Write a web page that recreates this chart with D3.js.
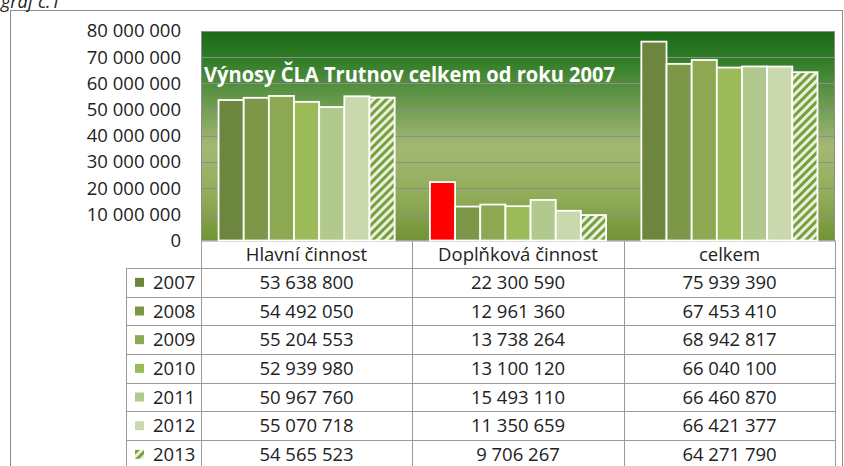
<!DOCTYPE html>
<html><head><meta charset="utf-8">
<script src="https://cdn.jsdelivr.net/npm/d3@7"></script>
<style>
html,body{margin:0;padding:0;background:#fff;}
svg{display:block;font-family:"Open Sans",Lato,sans-serif;}
</style></head>
<body><svg id="c" width="844" height="466"></svg>
<script>
const categories = ["Hlavní činnost", "Doplňková činnost", "celkem"];
const years = ["2007","2008","2009","2010","2011","2012","2013"];
const v2007 = [53638800, 22300590, 75939390];
const v2008 = [54492050, 12961360, 67453410];
const v2009 = [55204553, 13738264, 68942817];
const v2010 = [52939980, 13100120, 66040100];
const v2011 = [50967760, 15493110, 66460870];
const v2012 = [55070718, 11350659, 66421377];
const v2013 = [54565523, 9706267, 64271790];
const yTicks = [0,10000000,20000000,30000000,40000000,50000000,60000000,70000000,80000000];
const title = "Výnosy ČLA Trutnov celkem od roku 2007";
const caption = "graf č.1";

const series = [v2007,v2008,v2009,v2010,v2011,v2012,v2013];
const colors = ["#6c853f","#7c9748","#8ca853","#9bbb59","#b1c98c","#c9d9ad","url(#hatch)"];
const fmt = n => d3.format(",")(n).replace(/,/g," ");
const FS = 18.5;

const svg = d3.select("#c");
const defs = svg.append("defs");
const grad = defs.append("linearGradient").attr("id","bg").attr("x1",0).attr("y1",0).attr("x2",0).attr("y2",1);
[["0%","#1b6a17"],["12%","#2c7a24"],["30%","#5e9446"],["55%","#a3b874"],["80%","#8fab57"],["100%","#729335"]]
  .forEach(([o,c])=>grad.append("stop").attr("offset",o).attr("stop-color",c));
const pat = defs.append("pattern").attr("id","hatch").attr("patternUnits","userSpaceOnUse")
  .attr("width",6).attr("height",6).attr("patternTransform","rotate(45)");
pat.append("rect").attr("width",6).attr("height",6).attr("fill","#e9efdc");
pat.append("rect").attr("width",3).attr("height",6).attr("fill","#76a03c");

const L=201, R=835, T=31, B=240.5;
const x = d3.scaleBand().domain(categories).range([L,R]).paddingInner(0.167).paddingOuter(0.083);
const xs = d3.scaleBand().domain(years).range([0,x.bandwidth()]);
const y = d3.scaleLinear().domain([0,80000000]).range([B,T]);

// outer frame
svg.append("rect").attr("x",10.5).attr("y",10.5).attr("width",832).attr("height",470)
  .attr("fill","none").attr("stroke","#8c8c8c").attr("stroke-width",1);
svg.append("text").attr("x",1).attr("y",8).attr("font-style","italic").attr("font-size",18)
  .attr("fill","#222").text(caption);

// plot bg
svg.append("rect").attr("x",L).attr("y",T).attr("width",R-L).attr("height",B-T).attr("fill","url(#bg)");
// gridlines
svg.append("g").selectAll("line").data(yTicks.slice(1)).join("line")
  .attr("x1",L).attr("x2",R).attr("y1",d=>Math.round(y(d))+0.5).attr("y2",d=>Math.round(y(d))+0.5)
  .attr("stroke","#8d8d8d").attr("stroke-width",1);
svg.append("rect").attr("x",L+0.5).attr("y",T+0.5).attr("width",R-L-1).attr("height",B-T)
  .attr("fill","none").attr("stroke","#8d8d8d");

// y axis labels
const yAxis = d3.axisLeft(y).tickValues(yTicks).tickFormat(fmt).tickSize(0).tickPadding(0);
const ya = svg.append("g").attr("transform",`translate(181,0)`).call(yAxis);
ya.select(".domain").remove();
ya.selectAll("text").attr("font-size",FS).attr("fill","#222").attr("font-family","'Open Sans',sans-serif");

// title
svg.append("text").attr("x",204).attr("y",82).attr("fill","#fff").attr("font-weight","bold")
  .attr("font-size",21).attr("textLength",411).attr("lengthAdjust","spacingAndGlyphs").text(title);

// bars
series.forEach((s,i)=>{
  svg.append("g").selectAll("rect").data(s).join("rect")
    .attr("x",(d,j)=>x(categories[j])+xs(years[i]))
    .attr("y",d=>y(d))
    .attr("width",xs.bandwidth())
    .attr("height",d=>B-y(d))
    .attr("fill",(d,j)=>(i===0&&j===1)?"#ff0000":colors[i])
    .attr("stroke","#fff").attr("stroke-width",1.8);
});

// data table
const rowTop=268, rowH=28.67, legL=126;
const tg = svg.append("g");
const lineC="#9a9a9a";
const colX=[L,L+(R-L)/3,L+2*(R-L)/3,R].map(Math.round);
colX.forEach(cx=>{ tg.append("line").attr("x1",cx+0.5).attr("x2",cx+0.5).attr("y1",B).attr("y2",rowTop+rowH*7).attr("stroke",lineC);});
tg.append("line").attr("x1",legL+0.5).attr("x2",legL+0.5).attr("y1",rowTop).attr("y2",rowTop+rowH*7).attr("stroke",lineC);
for(let r=0;r<7;r++){
  const yy=Math.round(rowTop+rowH*r)+0.5;
  tg.append("line").attr("x1",legL).attr("x2",R+0.5).attr("y1",yy).attr("y2",yy).attr("stroke",lineC);
}
categories.forEach((c,k)=>{
  tg.append("text").attr("x",(colX[k]+colX[k+1])/2).attr("y",261).attr("text-anchor","middle")
    .attr("font-size",FS).attr("fill","#222").text(c);
});
years.forEach((yr,i)=>{
  const cy=rowTop+rowH*i+rowH/2;
  tg.append("rect").attr("x",135).attr("y",cy-4.5).attr("width",9).attr("height",9)
    .attr("fill",colors[i]);
  tg.append("text").attr("x",153).attr("y",cy+6.5).attr("font-size",FS).attr("fill","#222").text(yr);
  series[i].forEach((v,k)=>{
    tg.append("text").attr("x",(colX[k]+colX[k+1])/2).attr("y",cy+6.5).attr("text-anchor","middle")
      .attr("font-size",FS).attr("fill","#222").text(fmt(v));
  });
});
</script></body></html>
